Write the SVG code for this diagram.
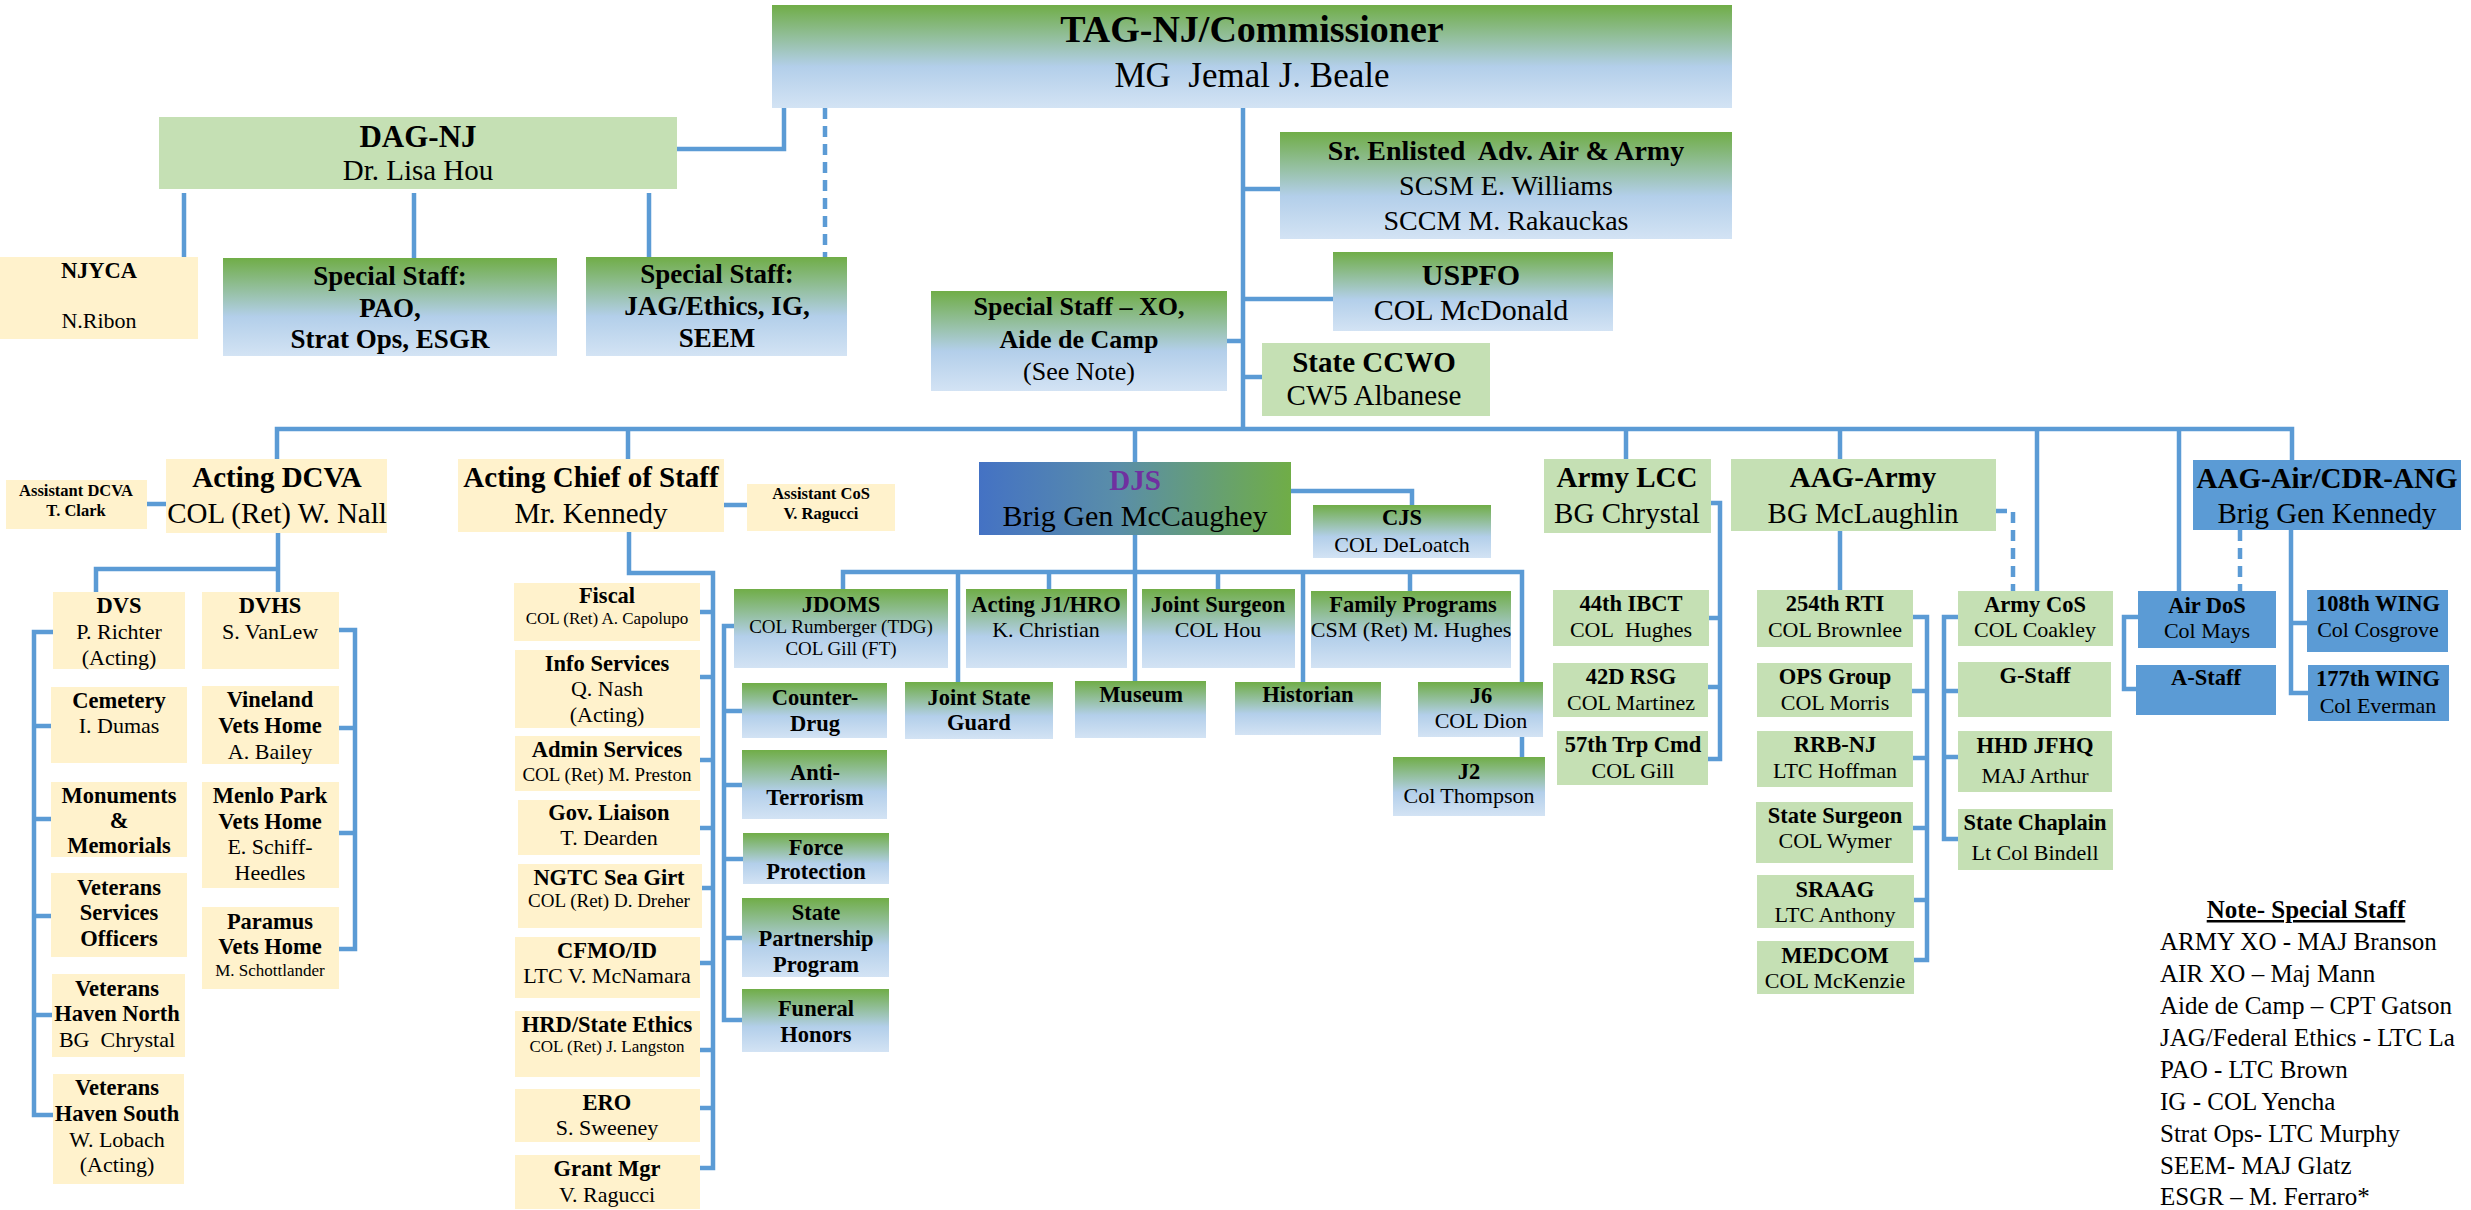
<svg xmlns="http://www.w3.org/2000/svg" width="2471" height="1210" viewBox="0 0 2471 1210">
<defs>
<linearGradient id="gv" x1="0" y1="0" x2="0" y2="1">
<stop offset="0" stop-color="#70AD47"/><stop offset="0.6" stop-color="#B3CFEA"/><stop offset="1" stop-color="#D3E3F4"/>
</linearGradient>
<linearGradient id="gh" x1="0" y1="0" x2="1" y2="0">
<stop offset="0" stop-color="#4472C4"/><stop offset="0.45" stop-color="#5A8EA8"/><stop offset="1" stop-color="#70AD47"/>
</linearGradient>
</defs>
<style>
text{font-family:"Liberation Serif","Times New Roman",serif;text-anchor:middle;fill:#000}
.y{fill:#FFF2CC}.lg{fill:#C5E0B4}.gr{fill:url(#gv)}.bl{fill:#5B9BD5}.dj{fill:url(#gh)}
.c{fill:none;stroke:#5B9BD5;stroke-width:4.5}
.d{stroke-dasharray:11 7}
.h1{font-size:38px;font-weight:bold}.h1n{font-size:35px}
.h2{font-size:29px;font-weight:bold}.n28{font-size:29px}
.b26{font-size:27px;font-weight:bold}.b25{font-size:26px;font-weight:bold}.n25{font-size:26px}
.b21{font-size:22.5px;font-weight:bold}.n21{font-size:22px}
.n18{font-size:19px}.n16{font-size:17px}.b15{font-size:16.5px;font-weight:bold}
.note{font-size:25px;text-anchor:start}
.noteh{font-size:25px;font-weight:bold;text-decoration:underline}
.pur{fill:#7030A0}
</style>

<g id="connectors">
<path class="c" d="M677,149 H784 V108"/>
<path class="c d" d="M825,108 V257"/>
<path class="c" d="M184,193 V257 M414,193 V258 M649,193 V257"/>
<path class="c" d="M1243,108 V429 M1243,189 H1280 M1243,299 H1333 M1227,341 H1243 M1243,377 H1262"/>
<path class="c" d="M277,460 V429 H2292 V460 M628,429 V459 M1135,429 V462 M1626,429 V459 M1840,429 V459 M2037,429 V591 M2179,429 V591"/>
<path class="c" d="M147,504 H166"/>
<path class="c" d="M278,533 V592 M278,569 H96 V592"/>
<path class="c" d="M53,632 H34 V1115 H53 M34,726 H51 M34,819 H51 M34,916 H51 M34,1015 H52"/>
<path class="c" d="M339,630 H355 V949 H339 M339,728 H355 M339,833 H355"/>
<path class="c" d="M724,505 H747"/>
<path class="c" d="M629,532 V573 H713 V1168 H700 M700,612 H713 M700,677 H713 M700,760 H713 M700,828 H713 M702,888 H713 M700,963 H713 M700,1050 H713 M700,1108 H713"/>
<path class="c" d="M1135,535 V681 M843,589 V572 H1522 V682 M958,572 V682 M1049,572 V589 M1218,572 V589 M1303,572 V682 M1410,572 V591"/>
<path class="c" d="M1291,491 H1412 V505"/>
<path class="c" d="M734,626 H724 V1020 H742 M724,711 H742 M724,785 H742 M724,859 H743 M724,938 H742"/>
<path class="c" d="M1522,737 V757"/>
<path class="c" d="M1711,503 H1720 V759 H1708 M1709,618 H1720 M1708,687 H1720"/>
<path class="c" d="M1840,531 V590"/>
<path class="c d" d="M1996,511 H2013 V591"/>
<path class="c" d="M1913,617 H1927 V960 H1914 M1912,691 H1927 M1913,758 H1927 M1913,828 H1927 M1914,900 H1927"/>
<path class="c" d="M1958,617 H1944 V839 H1958 M1944,691 H1958 M1944,757 H1958"/>
<path class="c d" d="M2240,530 V591"/>
<path class="c" d="M2291,530 V693 H2308 M2291,623 H2307"/>
<path class="c" d="M2138,617 H2124 V689 H2136"/>
</g>

<g id="tag"><rect class="gr" x="772" y="5" width="960" height="103"/>
<text class="h1" x="1252" y="42">TAG-NJ/Commissioner</text><text class="h1n" x="1252" y="87">MG&#160; Jemal J. Beale</text></g>
<g id="dag"><rect class="lg" x="159" y="117" width="518" height="72"/>
<text class="b26" style="font-size:31px" x="418" y="147">DAG-NJ</text><text class="n28" x="418" y="180">Dr. Lisa Hou</text></g>
<g id="njyca"><rect class="y" x="0" y="257" width="198" height="82"/>
<text class="b21" x="99" y="278">NJYCA</text><text class="n21" x="99" y="328">N.Ribon</text></g>
<g id="ss-pao"><rect class="gr" x="223" y="258" width="334" height="98"/>
<text class="b26" x="390" y="285">Special Staff:</text><text class="b26" x="390" y="317">PAO,</text><text class="b26" x="390" y="348">Strat Ops, ESGR</text></g>
<g id="ss-jag"><rect class="gr" x="586" y="257" width="261" height="99"/>
<text class="b26" x="717" y="283">Special Staff:</text><text class="b26" x="717" y="315">JAG/Ethics, IG,</text><text class="b26" x="717" y="347">SEEM</text></g>
<g id="ss-xo"><rect class="gr" x="931" y="291" width="296" height="100"/>
<text class="b25" x="1079" y="315">Special Staff – XO,</text><text class="b25" x="1079" y="348">Aide de Camp</text><text class="n25" x="1079" y="380">(See Note)</text></g>
<g id="sea"><rect class="gr" x="1280" y="132" width="452" height="107"/>
<text class="h2" style="font-size:28px" x="1506" y="160">Sr. Enlisted&#160; Adv. Air &amp; Army</text><text class="n28" style="font-size:28px" x="1506" y="195">SCSM E. Williams</text><text class="n28" style="font-size:28px" x="1506" y="230">SCCM M. Rakauckas</text></g>
<g id="uspfo"><rect class="gr" x="1333" y="252" width="280" height="79"/>
<text class="h2" style="font-size:30px" x="1471" y="285">USPFO</text><text class="n28" style="font-size:30px" x="1471" y="320">COL McDonald</text></g>
<g id="ccwo"><rect class="lg" x="1262" y="343" width="228" height="73"/>
<text class="h2" x="1374" y="372">State CCWO</text><text class="n28" x="1374" y="405">CW5 Albanese</text></g>

<g id="dcva"><rect class="y" x="166" y="459" width="221" height="74"/>
<text class="h2" x="277" y="487">Acting DCVA</text><text class="n28" x="277" y="523">COL (Ret) W. Nall</text></g>
<g id="asst-dcva"><rect class="y" x="6" y="480" width="141" height="49"/>
<text class="b15" x="76" y="496">Assistant DCVA</text><text class="b15" x="76" y="516">T. Clark</text></g>
<g id="cos"><rect class="y" x="458" y="459" width="266" height="73"/>
<text class="h2" x="591" y="487">Acting Chief of Staff</text><text class="n28" x="591" y="523">Mr. Kennedy</text></g>
<g id="asst-cos"><rect class="y" x="747" y="484" width="148" height="47"/>
<text class="b15" x="821" y="499">Assistant CoS</text><text class="b15" x="821" y="519">V. Ragucci</text></g>
<g id="djs"><rect class="dj" x="979" y="462" width="312" height="73"/>
<text class="h2 pur" x="1135" y="490">DJS</text><text class="n28" style="font-size:30px" x="1135" y="526">Brig Gen McCaughey</text></g>
<g id="cjs"><rect class="gr" x="1313" y="505" width="178" height="53"/>
<text class="b21" x="1402" y="525">CJS</text><text class="n21" x="1402" y="552">COL DeLoatch</text></g>
<g id="armylcc"><rect class="lg" x="1544" y="459" width="167" height="74"/>
<text class="h2" x="1627" y="487">Army LCC</text><text class="n28" x="1627" y="523">BG Chrystal</text></g>
<g id="aagarmy"><rect class="lg" x="1731" y="459" width="265" height="72"/>
<text class="h2" x="1863" y="487">AAG-Army</text><text class="n28" x="1863" y="523">BG McLaughlin</text></g>
<g id="aagair"><rect class="bl" x="2193" y="460" width="268" height="70"/>
<text class="h2" x="2327" y="488">AAG-Air/CDR-ANG</text><text class="n28" x="2327" y="523">Brig Gen Kennedy</text></g>

<g id="dvs"><rect class="y" x="53" y="592" width="132" height="77"/>
<text class="b21" x="119" y="613">DVS</text><text class="n21" x="119" y="639">P. Richter</text><text class="n21" x="119" y="665">(Acting)</text></g>
<g id="dvhs"><rect class="y" x="202" y="592" width="137" height="77"/>
<text class="b21" x="270" y="613">DVHS</text><text class="n21" x="270" y="639">S. VanLew</text></g>
<g id="cemetery"><rect class="y" x="51" y="687" width="136" height="76"/>
<text class="b21" x="119" y="708">Cemetery</text><text class="n21" x="119" y="733">I. Dumas</text></g>
<g id="vineland"><rect class="y" x="202" y="686" width="137" height="78"/>
<text class="b21" x="270" y="707">Vineland</text><text class="b21" x="270" y="733">Vets Home</text><text class="n21" x="270" y="759">A. Bailey</text></g>
<g id="monuments"><rect class="y" x="51" y="782" width="136" height="75"/>
<text class="b21" x="119" y="803">Monuments</text><text class="b21" x="119" y="828">&amp;</text><text class="b21" x="119" y="853">Memorials</text></g>
<g id="menlo"><rect class="y" x="202" y="782" width="137" height="106"/>
<text class="b21" x="270" y="803">Menlo Park</text><text class="b21" x="270" y="829">Vets Home</text><text class="n21" x="270" y="854">E. Schiff-</text><text class="n21" x="270" y="880">Heedles</text></g>
<g id="vso"><rect class="y" x="51" y="873" width="136" height="84"/>
<text class="b21" x="119" y="895">Veterans</text><text class="b21" x="119" y="920">Services</text><text class="b21" x="119" y="946">Officers</text></g>
<g id="paramus"><rect class="y" x="202" y="907" width="137" height="82"/>
<text class="b21" x="270" y="929">Paramus</text><text class="b21" x="270" y="954">Vets Home</text><text class="n16" x="270" y="976">M. Schottlander</text></g>
<g id="havennorth"><rect class="y" x="52" y="974" width="133" height="83"/>
<text class="b21" x="117" y="996">Veterans</text><text class="b21" x="117" y="1021">Haven North</text><text class="n21" x="117" y="1047">BG&#160; Chrystal</text></g>
<g id="havensouth"><rect class="y" x="53" y="1074" width="131" height="110"/>
<text class="b21" x="117" y="1095">Veterans</text><text class="b21" x="117" y="1121">Haven South</text><text class="n21" x="117" y="1147">W. Lobach</text><text class="n21" x="117" y="1172">(Acting)</text></g>

<g id="fiscal"><rect class="y" x="514" y="583" width="186" height="58"/>
<text class="b21" x="607" y="603">Fiscal</text><text class="n16" x="607" y="624">COL (Ret) A. Capolupo</text></g>
<g id="info"><rect class="y" x="515" y="650" width="185" height="78"/>
<text class="b21" x="607" y="671">Info Services</text><text class="n21" x="607" y="696">Q. Nash</text><text class="n21" x="607" y="722">(Acting)</text></g>
<g id="admin"><rect class="y" x="515" y="736" width="185" height="55"/>
<text class="b21" x="607" y="757">Admin Services</text><text class="n18" x="607" y="781">COL (Ret) M. Preston</text></g>
<g id="gov"><rect class="y" x="518" y="800" width="182" height="55"/>
<text class="b21" x="609" y="820">Gov. Liaison</text><text class="n21" x="609" y="845">T. Dearden</text></g>
<g id="ngtc"><rect class="y" x="518" y="864" width="184" height="64"/>
<text class="b21" x="609" y="885">NGTC Sea Girt</text><text class="n18" x="609" y="907">COL (Ret) D. Dreher</text></g>
<g id="cfmo"><rect class="y" x="515" y="937" width="185" height="61"/>
<text class="b21" x="607" y="958">CFMO/ID</text><text class="n21" x="607" y="983">LTC V. McNamara</text></g>
<g id="hrd"><rect class="y" x="515" y="1011" width="185" height="66"/>
<text class="b21" x="607" y="1032">HRD/State Ethics</text><text class="n16" x="607" y="1052">COL (Ret) J. Langston</text></g>
<g id="ero"><rect class="y" x="515" y="1089" width="185" height="53"/>
<text class="b21" x="607" y="1110">ERO</text><text class="n21" x="607" y="1135">S. Sweeney</text></g>
<g id="grant"><rect class="y" x="515" y="1155" width="185" height="54"/>
<text class="b21" x="607" y="1176">Grant Mgr</text><text class="n21" x="607" y="1202">V. Ragucci</text></g>

<g id="jdoms"><rect class="gr" x="734" y="589" width="214" height="79"/>
<text class="b21" x="841" y="612">JDOMS</text><text class="n18" x="841" y="633">COL Rumberger (TDG)</text><text class="n18" x="841" y="655">COL Gill (FT)</text></g>
<g id="counterdrug"><rect class="gr" x="742" y="683" width="145" height="55"/>
<text class="b21" x="815" y="705">Counter-</text><text class="b21" x="815" y="731">Drug</text></g>
<g id="antiterror"><rect class="gr" x="742" y="750" width="145" height="69"/>
<text class="b21" x="815" y="780">Anti-</text><text class="b21" x="815" y="805">Terrorism</text></g>
<g id="forceprot"><rect class="gr" x="743" y="833" width="146" height="51"/>
<text class="b21" x="816" y="855">Force</text><text class="b21" x="816" y="879">Protection</text></g>
<g id="spp"><rect class="gr" x="742" y="898" width="147" height="79"/>
<text class="b21" x="816" y="920">State</text><text class="b21" x="816" y="946">Partnership</text><text class="b21" x="816" y="972">Program</text></g>
<g id="funeral"><rect class="gr" x="742" y="989" width="147" height="63"/>
<text class="b21" x="816" y="1016">Funeral</text><text class="b21" x="816" y="1042">Honors</text></g>

<g id="j1"><rect class="gr" x="966" y="589" width="161" height="79"/>
<text class="b21" x="1046" y="612">Acting J1/HRO</text><text class="n21" x="1046" y="637">K. Christian</text></g>
<g id="jsurgeon"><rect class="gr" x="1142" y="589" width="153" height="79"/>
<text class="b21" x="1218" y="612">Joint Surgeon</text><text class="n21" x="1218" y="637">COL Hou</text></g>
<g id="family"><rect class="gr" x="1311" y="591" width="200" height="77"/>
<text class="b21" x="1413" y="612">Family Programs</text><text class="n21" x="1411" y="637">CSM (Ret) M. Hughes</text></g>
<g id="jsg"><rect class="gr" x="905" y="682" width="148" height="57"/>
<text class="b21" x="979" y="705">Joint State</text><text class="b21" x="979" y="730">Guard</text></g>
<g id="museum"><rect class="gr" x="1075" y="681" width="131" height="57"/>
<text class="b21" x="1141" y="702">Museum</text></g>
<g id="historian"><rect class="gr" x="1235" y="682" width="146" height="53"/>
<text class="b21" x="1308" y="702">Historian</text></g>
<g id="j6"><rect class="gr" x="1418" y="682" width="125" height="55"/>
<text class="b21" x="1481" y="703">J6</text><text class="n21" x="1481" y="728">COL Dion</text></g>
<g id="j2"><rect class="gr" x="1393" y="757" width="152" height="59"/>
<text class="b21" x="1469" y="779">J2</text><text class="n21" x="1469" y="803">Col Thompson</text></g>

<g id="ibct"><rect class="lg" x="1553" y="590" width="156" height="56"/>
<text class="b21" x="1631" y="611">44th IBCT</text><text class="n21" x="1631" y="637">COL&#160; Hughes</text></g>
<g id="rsg"><rect class="lg" x="1553" y="663" width="155" height="54"/>
<text class="b21" x="1631" y="684">42D RSG</text><text class="n21" x="1631" y="710">COL Martinez</text></g>
<g id="trpcmd"><rect class="lg" x="1557" y="731" width="151" height="54"/>
<text class="b21" x="1633" y="752">57th Trp Cmd</text><text class="n21" x="1633" y="778">COL Gill</text></g>

<g id="rti"><rect class="lg" x="1757" y="590" width="156" height="57"/>
<text class="b21" x="1835" y="611">254th RTI</text><text class="n21" x="1835" y="637">COL Brownlee</text></g>
<g id="ops"><rect class="lg" x="1757" y="663" width="155" height="54"/>
<text class="b21" x="1835" y="684">OPS Group</text><text class="n21" x="1835" y="710">COL Morris</text></g>
<g id="rrb"><rect class="lg" x="1757" y="731" width="156" height="56"/>
<text class="b21" x="1835" y="752">RRB-NJ</text><text class="n21" x="1835" y="778">LTC Hoffman</text></g>
<g id="ssurgeon"><rect class="lg" x="1756" y="802" width="157" height="61"/>
<text class="b21" x="1835" y="823">State Surgeon</text><text class="n21" x="1835" y="848">COL Wymer</text></g>
<g id="sraag"><rect class="lg" x="1757" y="875" width="157" height="53"/>
<text class="b21" x="1835" y="897">SRAAG</text><text class="n21" x="1835" y="922">LTC Anthony</text></g>
<g id="medcom"><rect class="lg" x="1757" y="941" width="157" height="53"/>
<text class="b21" x="1835" y="963">MEDCOM</text><text class="n21" x="1835" y="988">COL McKenzie</text></g>

<g id="armycos"><rect class="lg" x="1958" y="591" width="155" height="55"/>
<text class="b21" x="2035" y="612">Army CoS</text><text class="n21" x="2035" y="637">COL Coakley</text></g>
<g id="gstaff"><rect class="lg" x="1958" y="662" width="153" height="55"/>
<text class="b21" x="2035" y="683">G-Staff</text></g>
<g id="hhd"><rect class="lg" x="1958" y="731" width="154" height="61"/>
<text class="b21" x="2035" y="753">HHD JFHQ</text><text class="n21" x="2035" y="783">MAJ Arthur</text></g>
<g id="chaplain"><rect class="lg" x="1958" y="809" width="155" height="61"/>
<text class="b21" x="2035" y="830">State Chaplain</text><text class="n21" x="2035" y="860">Lt Col Bindell</text></g>

<g id="airdos"><rect class="bl" x="2138" y="591" width="138" height="57"/>
<text class="b21" x="2207" y="613">Air DoS</text><text class="n21" x="2207" y="638">Col Mays</text></g>
<g id="astaff"><rect class="bl" x="2136" y="665" width="140" height="50"/>
<text class="b21" x="2206" y="685">A-Staff</text></g>
<g id="wing108"><rect class="bl" x="2307" y="590" width="141" height="62"/>
<text class="b21" x="2378" y="611">108th WING</text><text class="n21" x="2378" y="637">Col Cosgrove</text></g>
<g id="wing177"><rect class="bl" x="2308" y="665" width="141" height="56"/>
<text class="b21" x="2378" y="686">177th WING</text><text class="n21" x="2378" y="713">Col Everman</text></g>

<g id="note">
<text class="noteh" x="2306" y="918">Note- Special Staff</text>
<text class="note" x="2160" y="950">ARMY XO - MAJ Branson</text>
<text class="note" x="2160" y="982">AIR XO – Maj Mann</text>
<text class="note" x="2160" y="1014">Aide de Camp – CPT Gatson</text>
<text class="note" x="2160" y="1046">JAG/Federal Ethics - LTC La</text>
<text class="note" x="2160" y="1078">PAO - LTC Brown</text>
<text class="note" x="2160" y="1110">IG - COL Yencha</text>
<text class="note" x="2160" y="1142">Strat Ops- LTC Murphy</text>
<text class="note" x="2160" y="1174">SEEM- MAJ Glatz</text>
<text class="note" x="2160" y="1205">ESGR – M. Ferraro*</text>
</g>
</svg>
